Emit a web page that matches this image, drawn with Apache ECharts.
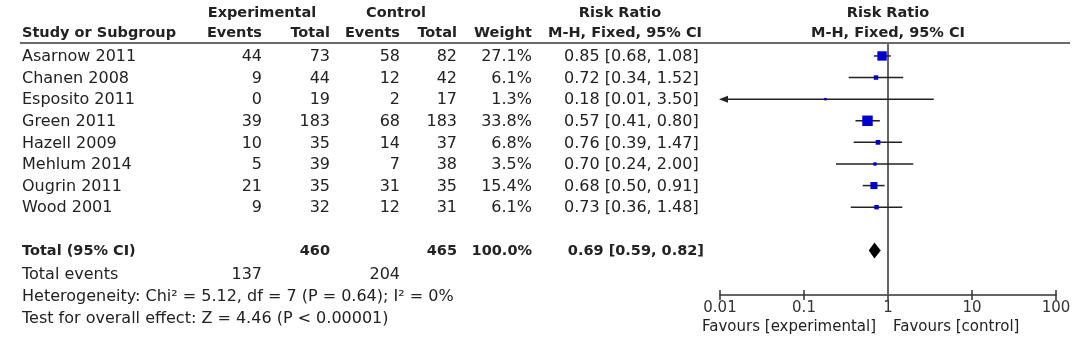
<!DOCTYPE html>
<html>
<head>
<meta charset="utf-8">
<script src="https://cdn.jsdelivr.net/npm/echarts@6/dist/echarts.min.js"></script>
<style>
html,body{margin:0;padding:0;background:#fff;}
#chart{width:1084px;height:346px;}
</style>
</head>
<body>
<div id="chart"></div>
<script>
// ---------- data ----------
const studies = ['Asarnow 2011','Chanen 2008','Esposito 2011','Green 2011','Hazell 2009','Mehlum 2014','Ougrin 2011','Wood 2001'];
const expEvents = [44, 9, 0, 39, 10, 5, 21, 9];
const expTotal = [73, 44, 19, 183, 35, 39, 35, 32];
const ctrlEvents = [58, 12, 2, 68, 14, 7, 31, 12];
const ctrlTotal = [82, 42, 17, 183, 37, 38, 35, 31];
const weights = [27.1, 6.1, 1.3, 33.8, 6.8, 3.5, 15.4, 6.1];
const riskRatio = [0.85, 0.72, 0.18, 0.57, 0.76, 0.70, 0.68, 0.73];
const ciLow = [0.68, 0.34, 0.01, 0.41, 0.39, 0.24, 0.50, 0.36];
const ciHigh = [1.08, 1.52, 3.50, 0.80, 1.47, 2.00, 0.91, 1.48];
const totalLabel = 'Total (95% CI)';
const totalExp = 460;
const totalCtrl = 465;
const totalWeight = 100.0;
const pooled = [0.69, 0.59, 0.82];
const totalEventsExp = 137;
const totalEventsCtrl = 204;
const heterogeneityText = 'Heterogeneity: Chi\u00b2 = 5.12, df = 7 (P = 0.64); I\u00b2 = 0%';
const overallText = 'Test for overall effect: Z = 4.46 (P < 0.00001)';
const tickValues = [0.01, 0.1, 1, 10, 100];
const tickLabels = ['0.01', '0.1', '1', '10', '100'];
const favourLeft = 'Favours [experimental]';
const favourRight = 'Favours [control]';

// ---------- layout / style ----------
const FONT = 'DejaVu Sans';
const TXT = '#222';
const FS = 16, FSB = 14.5;
const totalRow = 9;
const GRID = {left: 720, right: 28, top: 43, bottom: 51};
const GRID_H = 346 - GRID.top - GRID.bottom;
const col = {study: 22, expEv: 262, expTot: 330, ctrlEv: 400, ctrlTot: 457, weight: 532, rrLeft: 564, rrRight: 704};
const fmt2 = v => v.toFixed(2);
const rrText = (m, l, h) => fmt2(m) + ' [' + fmt2(l) + ', ' + fmt2(h) + ']';

function txt(x, y, text, align, bold, size) {
  return {type: 'text', x: x, y: y, silent: true,
    style: {text: text, x: 0, y: 0, align: align || 'left', verticalAlign: 'middle',
      fill: TXT, font: (bold ? 'bold ' : '') + (size || (bold ? FSB : FS)) + 'px "' + FONT + '"'}};
}

const chart = echarts.init(document.getElementById('chart'), null, {renderer: 'canvas'});

const studyData = studies.map((s, i) => [i, riskRatio[i], ciLow[i], ciHigh[i], weights[i]]);
const XMIN = tickValues[0], XMAX = tickValues[tickValues.length - 1];

const option = {
  backgroundColor: '#fff',
  animation: false,
  grid: GRID,
  xAxis: [{
    type: 'log', logBase: 10, min: XMIN, max: XMAX, position: 'bottom',
    axisLine: {show: true, onZero: false, lineStyle: {color: '#333', width: 1.5}},
    axisTick: {show: true, inside: false, length: 5, lineStyle: {color: '#333', width: 1.5}},
    axisLabel: {show: true, margin: 6, color: '#333', fontFamily: FONT, fontSize: 15,
      formatter: v => tickLabels[Math.round(Math.log10(v)) + 2]},
    splitLine: {show: false}, minorTick: {show: false}
  }, {
    // same scale, moved onto the bottom axis line, ticks pointing up
    type: 'log', logBase: 10, min: XMIN, max: XMAX, position: 'top', offset: -GRID_H,
    axisLine: {show: false},
    axisTick: {show: true, inside: false, length: 5, lineStyle: {color: '#333', width: 1.5}},
    axisLabel: {show: false}, splitLine: {show: false}
  }],
  yAxis: {type: 'value', inverse: true, min: -0.6, max: 11.065, show: false},
  graphic: [
    {type: 'line', silent: true, shape: {x1: 20, y1: 43, x2: 1070, y2: 43}, style: {stroke: '#6a6a6a', lineWidth: 2}},
    txt(262, 13, 'Experimental', 'center', true),
    txt(396, 13, 'Control', 'center', true),
    txt(620, 13, 'Risk Ratio', 'center', true),
    txt(888, 13, 'Risk Ratio', 'center', true),
    txt(col.study, 33, 'Study or Subgroup', 'left', true),
    txt(col.expEv, 33, 'Events', 'right', true),
    txt(col.expTot, 33, 'Total', 'right', true),
    txt(col.ctrlEv, 33, 'Events', 'right', true),
    txt(col.ctrlTot, 33, 'Total', 'right', true),
    txt(col.weight, 33, 'Weight', 'right', true),
    txt(625, 33, 'M-H, Fixed, 95% CI', 'center', true),
    txt(888, 33, 'M-H, Fixed, 95% CI', 'center', true),
    txt(col.study, 275, 'Total events', 'left'),
    txt(col.expEv, 275, String(totalEventsExp), 'right'),
    txt(col.ctrlEv, 275, String(totalEventsCtrl), 'right'),
    txt(col.study, 297, heterogeneityText, 'left'),
    txt(col.study, 319, overallText, 'left'),
    txt(876, 327, favourLeft, 'right', false, 15),
    txt(893, 327, favourRight, 'left', false, 15)
  ],
  series: [
    { // no-effect line
      type: 'line', xAxisIndex: 0, symbol: 'none', silent: true,
      lineStyle: {color: '#666', width: 2},
      data: [[1, -0.6], [1, 11.065]], z: 1
    },
    { // table text rows
      type: 'custom', xAxisIndex: 0, silent: true, clip: false,
      data: studyData,
      encode: {x: 1, y: 0},
      renderItem: function (params, api) {
        const i = params.dataIndex;
        const y = api.coord([1, api.value(0)])[1] + 1;
        return {type: 'group', children: [
          txt(col.study, y, studies[i], 'left'),
          txt(col.expEv, y, String(expEvents[i]), 'right'),
          txt(col.expTot, y, String(expTotal[i]), 'right'),
          txt(col.ctrlEv, y, String(ctrlEvents[i]), 'right'),
          txt(col.ctrlTot, y, String(ctrlTotal[i]), 'right'),
          txt(col.weight, y, weights[i].toFixed(1) + '%', 'right'),
          txt(col.rrLeft, y, rrText(riskRatio[i], ciLow[i], ciHigh[i]), 'left')
        ]};
      }, z: 2
    },
    { // total row text
      type: 'custom', xAxisIndex: 0, silent: true, clip: false,
      data: [[totalRow, pooled[0]]],
      encode: {x: 1, y: 0},
      renderItem: function (params, api) {
        const y = api.coord([1, api.value(0)])[1] + 1;
        return {type: 'group', children: [
          txt(col.study, y, totalLabel, 'left', true),
          txt(col.expTot, y, String(totalExp), 'right', true),
          txt(col.ctrlTot, y, String(totalCtrl), 'right', true),
          txt(col.weight, y, totalWeight.toFixed(1) + '%', 'right', true),
          txt(col.rrRight, y, rrText(pooled[0], pooled[1], pooled[2]), 'right', true)
        ]};
      }, z: 2
    },
    { // CI lines + weighted squares
      type: 'custom', xAxisIndex: 0, silent: true, clip: false,
      data: studyData,
      encode: {x: [1, 2, 3], y: 0},
      renderItem: function (params, api) {
        const row = api.value(0), m = api.value(1), lo = api.value(2), hi = api.value(3), w = api.value(4);
        const pm = api.coord([m, row]);
        const arrow = lo <= XMIN;
        const pl = api.coord([Math.max(lo, XMIN), row]);
        const ph = api.coord([hi, row]);
        const s = Math.max(Math.sqrt(w) * 1.8, 2.5);
        const ch = [
          {type: 'line', shape: {x1: pl[0] + (arrow ? 6 : 0), y1: pm[1], x2: ph[0], y2: pm[1]},
            style: {stroke: '#222', lineWidth: 1.5}},
          {type: 'rect', shape: {x: pm[0] - s / 2, y: pm[1] - s / 2, width: s, height: s},
            style: {fill: '#0000cc'}}
        ];
        if (arrow) {
          ch.push({type: 'polygon', shape: {points: [[pl[0] - 1, pm[1]], [pl[0] + 8, pm[1] - 3.5], [pl[0] + 8, pm[1] + 3.5]]},
            style: {fill: '#222'}});
        }
        return {type: 'group', children: ch};
      }, z: 3
    },
    { // pooled diamond
      type: 'custom', xAxisIndex: 0, silent: true, clip: false,
      data: [[totalRow, pooled[0], pooled[1], pooled[2]]],
      encode: {x: [1, 2, 3], y: 0},
      renderItem: function (params, api) {
        const row = api.value(0);
        const pm = api.coord([api.value(1), row]);
        const pl = api.coord([api.value(2), row]);
        const ph = api.coord([api.value(3), row]);
        const h = 8;
        return {type: 'polygon', shape: {points: [[pl[0], pm[1]], [pm[0], pm[1] - h], [ph[0], pm[1]], [pm[0], pm[1] + h]]},
          style: {fill: '#000'}};
      }, z: 3
    }
  ]
};
chart.setOption(option);
</script>
</body>
</html>
